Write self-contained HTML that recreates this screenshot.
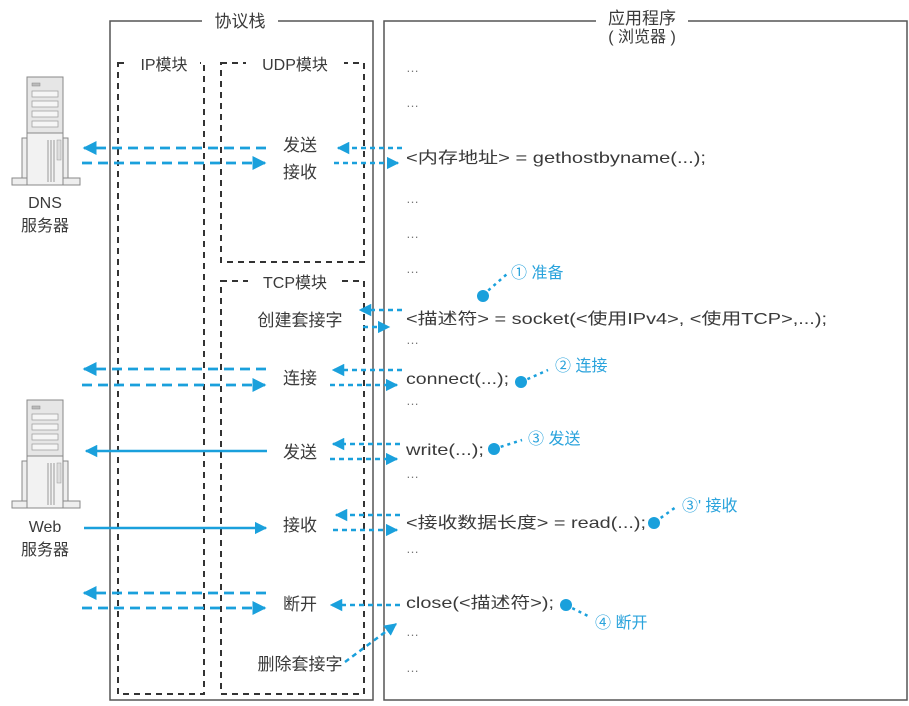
<!DOCTYPE html>
<html><head><meta charset="utf-8"><style>
html,body{margin:0;padding:0;background:#fff;}
svg{display:block;}
text{font-family:"Liberation Sans","Noto Sans CJK SC",sans-serif;fill:#3a3a3a;}
.b{fill:#2aa3dc;}
.d{fill:#777;}
</style></head><body>
<svg width="909" height="706" viewBox="0 0 909 706" xmlns="http://www.w3.org/2000/svg">
<defs>
<marker id="a" viewBox="0 0 10 10" refX="9" refY="5" markerWidth="5" markerHeight="5" orient="auto" markerUnits="strokeWidth">
<path d="M0,0 L10,5 L0,10 z" fill="#1aa0dc"/></marker>
<g id="srv">
<rect x="22" y="138" width="6" height="41" fill="#eee" stroke="#888"/>
<rect x="62" y="138" width="6" height="41" fill="#eee" stroke="#888"/>
<rect x="12" y="178" width="68" height="7" fill="#eee" stroke="#888"/>
<rect x="27" y="77" width="36" height="108" fill="#f2f2f2" stroke="#888"/>
<rect x="27" y="77" width="36" height="56" fill="#e6e6e6" stroke="#888"/>
<rect x="32" y="83" width="8" height="3" fill="#bbb" stroke="#888" stroke-width="0.5"/>
<rect x="32" y="91" width="26" height="6" fill="#f5f5f5" stroke="#999" stroke-width="0.7"/>
<rect x="32" y="101" width="26" height="6" fill="#f5f5f5" stroke="#999" stroke-width="0.7"/>
<rect x="32" y="111" width="26" height="6" fill="#f5f5f5" stroke="#999" stroke-width="0.7"/>
<rect x="32" y="121" width="26" height="6" fill="#f5f5f5" stroke="#999" stroke-width="0.7"/>
<line x1="48" y1="140" x2="48" y2="182" stroke="#999"/>
<line x1="51" y1="140" x2="51" y2="182" stroke="#999"/>
<line x1="54" y1="140" x2="54" y2="182" stroke="#999"/>
<rect x="57" y="140" width="4" height="20" fill="#ddd" stroke="#999" stroke-width="0.5"/>
</g>
</defs>

<rect x="110" y="21" width="263" height="679" fill="none" stroke="#555" stroke-width="1.5"/>
<rect x="384" y="21" width="523" height="679" fill="none" stroke="#555" stroke-width="1.5"/>
<rect x="202" y="8" width="76" height="26" fill="#fff"/>
<text x="240" y="27" font-size="17" text-anchor="middle">协议栈</text>
<rect x="596" y="4" width="92" height="40" fill="#fff"/>
<text x="642" y="24" font-size="17" text-anchor="middle">应用程序</text>
<text x="642" y="42" font-size="16" text-anchor="middle">( 浏览器 )</text>

<g fill="none" stroke="#333" stroke-width="2" stroke-dasharray="6 5">
<rect x="118" y="63" width="86" height="631"/>
<rect x="221" y="63" width="143" height="199"/>
<rect x="221" y="281" width="143" height="413"/>
</g>
<rect x="128" y="54" width="72" height="20" fill="#fff"/>
<text x="164" y="70" font-size="16" text-anchor="middle">IP模块</text>
<rect x="246" y="54" width="98" height="20" fill="#fff"/>
<text x="295" y="70" font-size="16" text-anchor="middle">UDP模块</text>
<rect x="248" y="272" width="94" height="20" fill="#fff"/>
<text x="295" y="288" font-size="16" text-anchor="middle">TCP模块</text>

<use href="#srv"/>
<use href="#srv" transform="translate(0,323)"/>
<text x="45" y="208" font-size="16" text-anchor="middle">DNS</text>
<text x="45" y="231" font-size="16" text-anchor="middle">服务器</text>
<text x="45" y="532" font-size="16" text-anchor="middle">Web</text>
<text x="45" y="555" font-size="16" text-anchor="middle">服务器</text>

<g font-size="17" text-anchor="middle">
<text x="300" y="151">发送</text>
<text x="300" y="178">接收</text>
<text x="300" y="326">创建套接字</text>
<text x="300" y="384">连接</text>
<text x="300" y="458">发送</text>
<text x="300" y="531">接收</text>
<text x="300" y="610">断开</text>
<text x="300" y="670">删除套接字</text>
</g>

<g stroke="#1aa0dc" stroke-width="2.5" fill="none" marker-end="url(#a)">
<g stroke-dasharray="10 6" stroke-width="2.8">
<line x1="266" y1="148" x2="84" y2="148"/>
<line x1="82" y1="163" x2="265" y2="163"/>
<line x1="266" y1="369" x2="84" y2="369"/>
<line x1="82" y1="385" x2="265" y2="385"/>
<line x1="266" y1="593" x2="84" y2="593"/>
<line x1="82" y1="608" x2="265" y2="608"/>
</g>
<line x1="267" y1="451" x2="86" y2="451"/>
<line x1="84" y1="528" x2="266" y2="528"/>
<g stroke-dasharray="5 4">
<line x1="402" y1="148" x2="338" y2="148"/>
<line x1="334" y1="163" x2="398" y2="163"/>
<line x1="402" y1="310" x2="360" y2="310"/>
<line x1="363" y1="327" x2="389" y2="327"/>
<line x1="402" y1="370" x2="333" y2="370"/>
<line x1="330" y1="385" x2="397" y2="385"/>
<line x1="400" y1="444" x2="333" y2="444"/>
<line x1="330" y1="459" x2="397" y2="459"/>
<line x1="400" y1="515" x2="336" y2="515"/>
<line x1="333" y1="530" x2="397" y2="530"/>
<line x1="400" y1="605" x2="331" y2="605"/>
<line x1="345" y1="662" x2="396" y2="624"/>
</g>
</g>

<g font-size="16">
<text class="d" x="406" y="72" font-size="13">…</text>
<text class="d" x="406" y="107" font-size="13">…</text>
<text x="406" y="163" textLength="300" lengthAdjust="spacingAndGlyphs">&lt;内存地址&gt; = gethostbyname(...);</text>
<text class="d" x="406" y="203" font-size="13">…</text>
<text class="d" x="406" y="238" font-size="13">…</text>
<text class="d" x="406" y="273" font-size="13">…</text>
<text x="406" y="324" textLength="421" lengthAdjust="spacingAndGlyphs">&lt;描述符&gt; = socket(&lt;使用IPv4&gt;, &lt;使用TCP&gt;,...);</text>
<text class="d" x="406" y="344" font-size="13">…</text>
<text x="406" y="384" textLength="103" lengthAdjust="spacingAndGlyphs">connect(...);</text>
<text class="d" x="406" y="405" font-size="13">…</text>
<text x="406" y="455" textLength="78" lengthAdjust="spacingAndGlyphs">write(...);</text>
<text class="d" x="406" y="478" font-size="13">…</text>
<text x="406" y="528" textLength="240" lengthAdjust="spacingAndGlyphs">&lt;接收数据长度&gt; = read(...);</text>
<text class="d" x="406" y="553" font-size="13">…</text>
<text x="406" y="608" textLength="148" lengthAdjust="spacingAndGlyphs">close(&lt;描述符&gt;);</text>
<text class="d" x="406" y="636" font-size="13">…</text>
<text class="d" x="406" y="672" font-size="13">…</text>
</g>

<g stroke="#1aa0dc" stroke-width="2.5" stroke-dasharray="3 4" fill="none">
<line x1="483" y1="295" x2="507" y2="274"/>
<line x1="521" y1="382" x2="548" y2="370"/>
<line x1="494" y1="449" x2="522" y2="440"/>
<line x1="655" y1="522" x2="676" y2="507"/>
<line x1="566" y1="605" x2="590" y2="617"/>
</g>
<g fill="#1aa0dc">
<circle cx="483" cy="296" r="6"/>
<circle cx="521" cy="382" r="6"/>
<circle cx="494" cy="449" r="6"/>
<circle cx="654" cy="523" r="6"/>
<circle cx="566" cy="605" r="6"/>
</g>
<g font-size="16">
<text class="b" x="511" y="278">① 准备</text>
<text class="b" x="555" y="371">② 连接</text>
<text class="b" x="528" y="444">③ 发送</text>
<text class="b" x="682" y="511">③' 接收</text>
<text class="b" x="595" y="628">④ 断开</text>
</g>
</svg>
</body></html>
